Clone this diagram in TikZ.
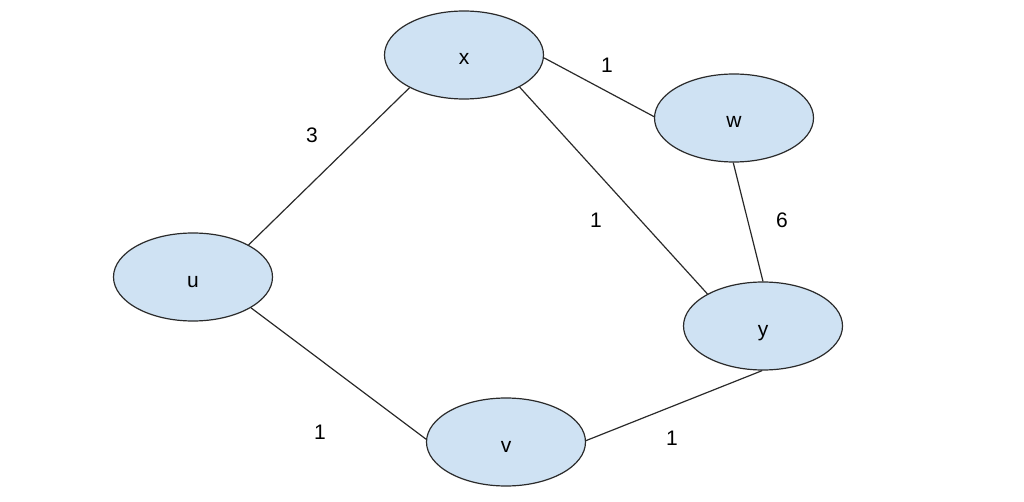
\documentclass[tikz,border=0pt]{standalone}
\usepackage{fontspec}
\setmainfont{Liberation Sans}
\usetikzlibrary{shapes.geometric}
\definecolor{nodefill}{HTML}{CFE2F3}
\definecolor{edgecol}{HTML}{2A2A2A}
\tikzset{
  vert/.style={ellipse, draw=edgecol, fill=nodefill, line width=1.2pt,
    minimum width=159pt, minimum height=88pt, inner sep=0pt, font=\fontsize{21}{24}\selectfont},
  edge/.style={draw=edgecol, line width=1.2pt},
  wt/.style={font=\fontsize{21}{24}\selectfont, inner sep=0pt}
}
\newcommand{\vlab}[1]{\raisebox{-10pt}[0pt][0pt]{#1}}
\begin{document}
\begin{tikzpicture}[x=1pt,y=1pt]
\useasboundingbox (0,0) rectangle (1024,501);
\node[vert] (x) at (464,446) {\vlab{x}};
\node[vert] (w) at (734,383) {\vlab{w}};
\node[vert] (u) at (193,224) {\vlab{u}};
\node[vert] (y) at (763,175) {\vlab{y}};
\node[vert] (v) at (506,59) {\vlab{v}};
\draw[edge] (u.30) -- (x.211);
\draw[edge] (x.-2) -- (w.179);
\draw[edge] (x.-30) -- (y.150);
\draw[edge] (w.269) -- (y.90);
\draw[edge] (u.-28) -- (v.178);
\draw[edge] (v.1) -- (y.269);
\node[wt] (l1) at (312,366) {3};
\node[wt] (l2) at (607,436) {1};
\node[wt] (l3) at (596,281) {1};
\node[wt] (l4) at (782,281) {6};
\node[wt] (l5) at (320,69) {1};
\node[wt] (l6) at (672,63) {1};
\end{tikzpicture}
\end{document}
